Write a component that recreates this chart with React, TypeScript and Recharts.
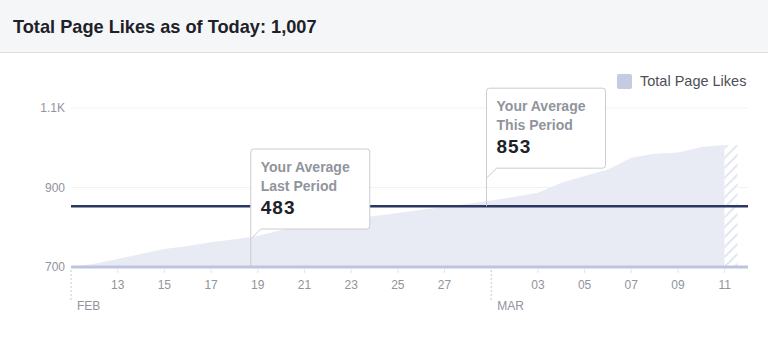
import React from 'react';
import {
  ComposedChart,
  Area,
  XAxis,
  YAxis,
  CartesianGrid,
  ReferenceLine,
  ReferenceArea,
  ReferenceDot,
} from 'recharts';

// Feb 11 .. Mar 11, one entry per day
const dayLabels = [
  '11', '12', '13', '14', '15', '16', '17', '18', '19', '20', '21', '22', '23', '24', '25', '26', '27', '28',
  '01', '02', '03', '04', '05', '06', '07', '08', '09', '10', '11',
];
const likes = [
  700, 708, 720, 733, 745, 753, 762, 770, 778, 793, 801, 811, 821, 828, 836, 844, 851, 859,
  867, 877, 887, 912, 929, 945, 975, 985, 988, 1002, 1007,
];

const monthNames = ['FEB', 'MAR'];
const monthStarts = [0, 18];
const tickDays = [0, 2, 4, 6, 8, 10, 12, 14, 16, 18, 20, 22, 24, 26, 28];

const yTicks = [700, 900, 1100];
const yTickLabels = ['700', '900', '1.1K'];

const totalLikes = '1,007';
const averageThisPeriod = 853;
const calloutTitles = [['Your Average', 'Last Period'], ['Your Average', 'This Period']];
const calloutValues = [483, 853];
const calloutDays = [7.7, 17.8];
const calloutLevels = [700, averageThisPeriod];

const data = likes.map((v, i) => ({ day: i, likes: v }));

const FONT = '"Liberation Sans", Arial, Helvetica, sans-serif';

const XTick = (props: any) => {
  const { x, y, payload } = props;
  const day = payload.value;
  const m = monthStarts.indexOf(day);
  if (m >= 0) {
    return (
      <g>
        <line x1={x} x2={x} y1={y + 3} y2={y + 33} stroke="#c4c8ce" strokeDasharray="2 2" />
        <text x={x + 6} y={y + 43} fill="#90949c" fontSize={12} textAnchor="start">
          {monthNames[m]}
        </text>
      </g>
    );
  }
  return (
    <g>
      <line x1={x} x2={x} y1={y + 2} y2={y + 6} stroke="#e4e6ea" />
      <text x={x} y={y + 22} fill="#90949c" fontSize={12} textAnchor="middle">
        {dayLabels[day]}
      </text>
    </g>
  );
};

const makeCallout = (i: number) => (p: any) => {
  const ax = p.cx;
  const ay = p.cy;
  const top = ay - 118;
  const bottom = ay - 38;
  const right = ax + 119;
  const r = 3;
  const d = `M ${ax} ${ay} L ${ax} ${top + r} Q ${ax} ${top} ${ax + r} ${top} L ${right - r} ${top} Q ${right} ${top} ${right} ${top + r} L ${right} ${bottom - r} Q ${right} ${bottom} ${right - r} ${bottom} L ${ax + 10} ${bottom} L ${ax} ${ay - 28}`;
  return (
    <g>
      <path d={d} fill="#ffffff" stroke="#c9ccd1" strokeWidth={1} />
      <text x={ax + 10} y={top + 23} fill="#90949c" fontSize={14} fontWeight="bold">
        {calloutTitles[i][0]}
      </text>
      <text x={ax + 10} y={top + 42} fill="#90949c" fontSize={14} fontWeight="bold">
        {calloutTitles[i][1]}
      </text>
      <text x={ax + 10} y={top + 65} fill="#1d2129" fontSize={19} fontWeight="bold" letterSpacing={1}>
        {calloutValues[i]}
      </text>
    </g>
  );
};

export default function App() {
  return (
    <div
      style={{
        position: 'absolute',
        left: 0,
        top: 0,
        width: 768,
        height: 356,
        background: '#ffffff',
        overflow: 'hidden',
        fontFamily: FONT,
      }}
    >
      <ComposedChart width={768} height={356} data={data} margin={{ top: 108, right: 20, bottom: 0, left: 0 }}>
        <defs>
          <pattern id="hatch" width="7" height="7" patternUnits="userSpaceOnUse" patternTransform="rotate(45)">
            <rect width="7" height="7" fill="#ffffff" />
            <line x1="1" y1="0" x2="1" y2="7" stroke="#e4e7f1" strokeWidth="2" />
          </pattern>
        </defs>
        <CartesianGrid vertical={false} stroke="#f1f2f4" />
        <XAxis
          dataKey="day"
          type="number"
          domain={[0, 29]}
          ticks={tickDays}
          interval={0}
          height={89}
          tickSize={0}
          tickMargin={0}
          tickLine={false}
          axisLine={{ stroke: '#bec4dd', strokeWidth: 3 }}
          tick={<XTick />}
        />
        <YAxis
          domain={[700, 1100]}
          ticks={yTicks}
          width={71}
          axisLine={false}
          tickLine={false}
          tickSize={0}
          tickMargin={6}
          tick={{ fill: '#90949c', fontSize: 12 }}
          tickFormatter={(v: number) => yTickLabels[yTicks.indexOf(v)]}
        />
        <Area
          dataKey="likes"
          type="linear"
          fill="#e9ebf4"
          fillOpacity={1}
          stroke="none"
          isAnimationActive={false}
        />
        <ReferenceArea x1={28} x2={28.55} y1={700} y2={likes[likes.length - 1]} fill="url(#hatch)" fillOpacity={1} />
        <ReferenceLine y={averageThisPeriod} stroke="#2a3961" strokeWidth={2.5} />
        {calloutDays.map((d, i) => (
          <ReferenceDot key={i} x={d} y={calloutLevels[i]} r={0} ifOverflow="visible" shape={makeCallout(i)} />
        ))}
      </ComposedChart>

      <div
        style={{
          position: 'absolute',
          left: 0,
          top: 0,
          width: 768,
          height: 53,
          boxSizing: 'border-box',
          background: '#f5f6f7',
          borderBottom: '1px solid #dddfe2',
          paddingLeft: 13,
          lineHeight: '54px',
          fontSize: 18.2,
          fontWeight: 'bold',
          color: '#1d2129',
        }}
      >
        Total Page Likes as of Today: {totalLikes}
      </div>

      <div style={{ position: 'absolute', left: 617, top: 74, width: 15, height: 15, background: '#c5cbe0', borderRadius: 2 }} />
      <div style={{ position: 'absolute', left: 640, top: 73, fontSize: 14.5, color: '#4b4f56', lineHeight: '17px' }}>
        Total Page Likes
      </div>
    </div>
  );
}
